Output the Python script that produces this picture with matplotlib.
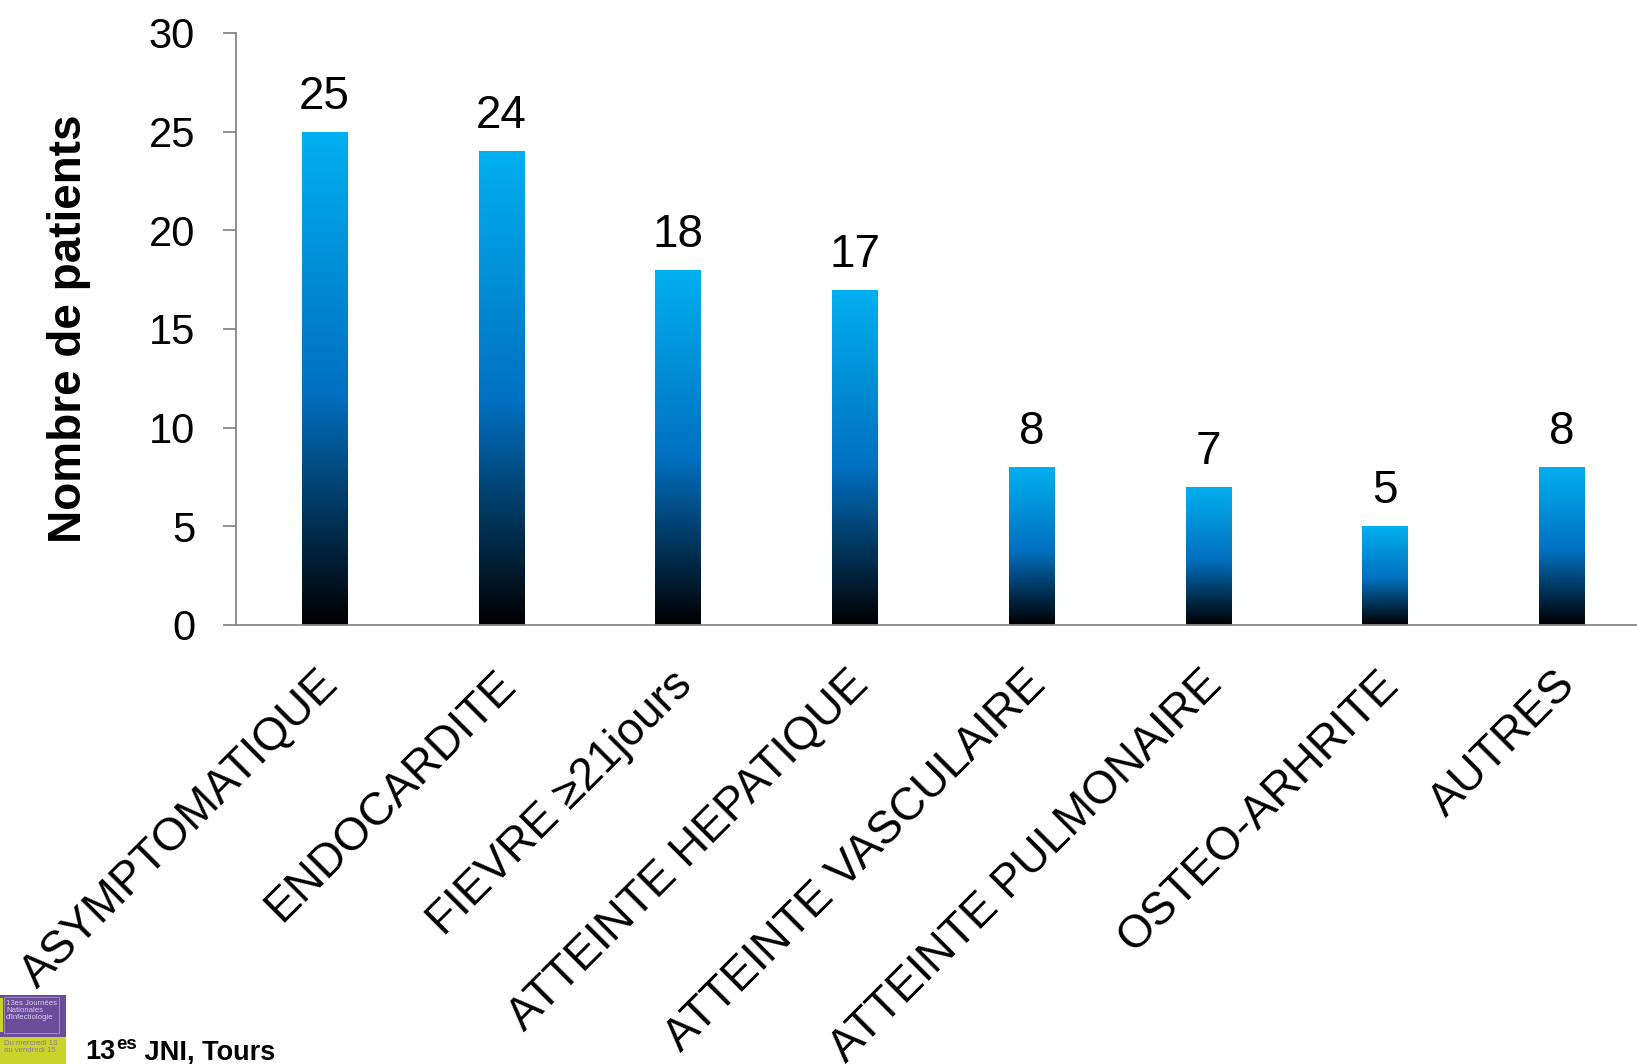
import numpy as np
import matplotlib
matplotlib.use("Agg")
import matplotlib.pyplot as plt
from matplotlib.colors import LinearSegmentedColormap
from matplotlib.patches import Rectangle
from matplotlib.transforms import ScaledTranslation

categories = ["ASYMPTOMATIQUE", "ENDOCARDITE", "FIEVRE \u226521jours", "ATTEINTE HEPATIQUE",
              "ATTEINTE VASCULAIRE", "ATTEINTE PULMONAIRE", "OSTEO-ARHRITE", "AUTRES"]
values = [25, 24, 18, 17, 8, 7, 5, 8]
yticks = [0, 5, 10, 15, 20, 25, 30]
ylabel = "Nombre de patients"

plt.rcParams['font.family'] = ['Liberation Sans', 'DejaVu Sans']

W, H = 1637, 1064
fig = plt.figure(figsize=(W / 100, H / 100), dpi=100)
ax = fig.add_axes([236 / W, (H - 625) / H, (1650 - 236) / W, (625 - 33) / H])

cmap = LinearSegmentedColormap.from_list(
    "grad", [(0.0, "#000000"), (0.47, "#0070C0"), (1.0, "#00B0F0")])
grad = np.linspace(0, 1, 256).reshape(-1, 1)

x = np.arange(len(categories))
bars = ax.bar(x, values, width=0.255, color="none", edgecolor="none", zorder=2)
for rect in bars.patches:
    x0, y0 = rect.get_x(), rect.get_y()
    w, h = rect.get_width(), rect.get_height()
    im = ax.imshow(grad, extent=[x0, x0 + w, y0, y0 + h], origin="lower",
                   aspect="auto", cmap=cmap, zorder=2)
    im.set_clip_path(rect)

for xi, v in zip(x, values):
    ax.annotate(str(v), xy=(xi, v), xytext=(0, 16.5), textcoords="offset points",
                ha="center", va="baseline", fontsize=33, color="black")

ax.set_xlim(-0.5, len(categories) - 0.5)
ax.set_ylim(0, 30)
ax.set_yticks(yticks)
ax.set_yticklabels([str(t) for t in yticks], fontsize=30)
ax.set_xticks(x)
ax.set_xticklabels(categories, rotation=45, ha="right", va="top",
                   rotation_mode="anchor", fontsize=33)
ax.tick_params(axis="x", length=0, pad=27)
ax.tick_params(axis="y", length=9.4, width=1.3, color="#868686", pad=20, direction="out")
shift = ScaledTranslation(-8 / 100, 0, fig.dpi_scale_trans)
for lab in ax.get_xticklabels():
    lab.set_transform(lab.get_transform() + shift)

for s in ["top", "right"]:
    ax.spines[s].set_visible(False)
for s in ["left", "bottom"]:
    ax.spines[s].set_color("#868686")
    ax.spines[s].set_linewidth(1.3)

fig.text(81 / W, (H - 329) / H, ylabel, rotation=90, rotation_mode="anchor",
         ha="center", va="baseline", fontsize=33, fontweight="bold")

# logo block bottom-left
fig.patches.append(Rectangle((0, (H - 1037) / H), 66 / W, 42 / H,
                             transform=fig.transFigure, facecolor="#6B4C9A",
                             edgecolor="none", zorder=1))
fig.patches.append(Rectangle((0, 0), 66 / W, (H - 1037) / H,
                             transform=fig.transFigure, facecolor="#C8D42A",
                             edgecolor="none", zorder=1))
fig.patches.append(Rectangle((0, (H - 1032) / H), 3 / W, 34 / H,
                             transform=fig.transFigure, facecolor="#C8D42A",
                             edgecolor="none", zorder=2))
fig.patches.append(Rectangle((4 / W, (H - 1033) / H), 55 / W, 36 / H,
                             transform=fig.transFigure, facecolor="none",
                             edgecolor="#A898C8", linewidth=0.6, zorder=2))
fig.text(6 / W, (H - 1000) / H, "13es Journ\u00e9es\nNationales\nd'Infectiologie",
         fontsize=5.6, color="#D8D0EC", va="top", ha="left", linespacing=1.0)
fig.text(4 / W, (H - 1040) / H, "Du mercredi 13\nau vendredi 15",
         fontsize=5.6, color="#8A7AB0", va="top", ha="left", linespacing=1.05)

# footer "13es JNI, Tours" with superscript
base_x, base_y = 85, H - 1059  # pixel coords from bottom-left
t1 = fig.text(base_x / W, base_y / H, "13", fontsize=19.5, fontweight="bold",
              va="baseline", ha="left")
fig.canvas.draw()
r = fig.canvas.get_renderer()
e1 = t1.get_window_extent(r)
t2 = fig.text(e1.x1 / W + 1 / W, (base_y + 10) / H, "es", fontsize=13.5,
              fontweight="bold", va="baseline", ha="left")
fig.canvas.draw()
e2 = t2.get_window_extent(r)
fig.text(e2.x1 / W, base_y / H, " JNI, Tours", fontsize=19.5, fontweight="bold",
         va="baseline", ha="left")

fig.savefig("out.png", dpi=100)
